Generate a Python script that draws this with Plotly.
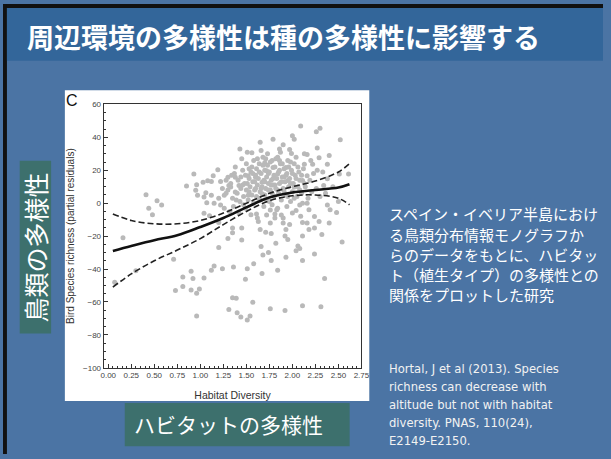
import plotly.graph_objects as go

W, H = 611, 459

# ---- data -------------------------------------------------------------
# Habitat diversity vs. bird species richness (partial residuals)
hab_div = [
    0.07, 0.16, 0.30, 0.41, 0.44, 0.53, 0.58, 0.48,
    0.71, 0.73, 0.81, 0.81, 0.90, 0.90, 0.92, 0.96, 0.99, 0.96, 0.85, 0.93, 0.96, 0.95, 0.97,
    1.03, 1.08, 1.12, 1.14, 1.19, 1.22, 1.06, 1.04, 1.12, 1.07, 1.15, 1.22, 1.26, 1.04, 1.10,
    1.20, 1.30, 1.35, 1.20, 1.15, 1.24, 1.12, 1.04, 1.30, 1.31,
    1.31, 1.35, 1.39, 1.40, 1.44, 1.51, 1.54, 1.57, 1.76, 1.92, 2.11, 2.31,
    1.38, 1.52, 1.67, 1.84, 1.81, 1.88, 2.04, 2.08, 2.11, 2.16, 2.24, 2.38, 2.48, 2.40, 2.54,
    2.35, 2.24, 2.11, 2.08, 2.04, 2.06, 2.11, 1.95, 1.92, 2.16, 2.11, 2.18, 1.93, 1.90, 1.76,
    1.71, 1.77, 1.65, 1.63, 1.61, 1.72, 1.76, 1.81, 1.45, 1.35, 1.45, 1.66, 1.68, 1.77, 1.74,
    1.82, 1.51, 1.58, 1.36, 1.49, 1.67, 1.84, 1.93, 2.29, 2.50, 2.41,
    2.09, 2.26, 2.30, 2.52, 2.00, 2.02, 1.90, 1.86, 1.65, 1.79, 1.43, 1.56, 1.97, 1.99, 2.16,
    2.27, 2.29, 2.40, 2.51, 2.61, 2.38, 2.22, 2.13, 1.79, 1.70, 1.72, 1.84, 1.93, 1.52, 1.60,
    1.67, 1.38, 1.42, 1.33, 2.38, 2.34, 2.11, 1.95, 2.02, 2.16,
    1.30, 1.33, 1.35, 1.37, 1.40, 1.41, 1.43, 1.44, 1.46, 1.47, 1.48, 1.50, 1.50, 1.52, 1.53,
    1.54, 1.55, 1.56, 1.57, 1.58, 1.59, 1.60, 1.61, 1.62, 1.63, 1.63, 1.64, 1.65, 1.66, 1.67,
    1.68, 1.69, 1.70, 1.70, 1.71, 1.72, 1.73, 1.74, 1.75, 1.75, 1.76, 1.77, 1.78, 1.79, 1.80,
    1.80, 1.81, 1.82, 1.83, 1.84, 1.85, 1.85, 1.86, 1.87, 1.88, 1.89, 1.90, 1.91, 1.92, 1.93,
    1.94, 1.95, 1.96, 1.97, 1.98, 1.99, 2.00, 2.01, 2.02, 2.03, 2.05, 2.06, 2.07, 2.08, 2.10,
    2.12, 2.14, 2.17, 2.19, 2.21, 2.23, 2.26, 2.30, 2.33, 2.36, 2.44,
    1.20, 1.24, 1.26, 1.28, 1.32, 1.36, 1.38, 1.42, 1.45, 1.49, 1.51, 1.55, 1.58, 1.62, 1.66,
    1.69, 1.73, 1.78, 1.83, 1.87, 1.90, 1.94, 1.97, 2.00, 2.04, 2.09, 2.13, 2.18, 2.20, 2.24,
    2.27, 2.32,
    1.46, 1.49, 1.53, 1.56, 1.59, 1.61, 1.64, 1.66, 1.68, 1.70, 1.72, 1.74, 1.76, 1.78, 1.79,
    1.81, 1.82, 1.84, 1.86, 1.88, 1.89, 1.91, 1.93, 1.95, 1.96, 1.98, 2.00, 2.02, 2.04, 2.06,
    2.08, 2.10, 2.13, 1.62, 1.57, 1.51, 1.44, 1.39, 1.34, 1.28, 1.47, 1.71, 1.86, 1.98, 1.53,
    1.65, 1.77, 1.91, 1.74, 1.60,
]
richness_resid = [
    -48, -21, -41, 5.2, -3, 1.5, -1.1, -7,
    -34, -53, -50.7, -44.8, -52.7, -41.4, -45.8, -54.7, -52.1, -68.6, 10.4, 17.7, 11.2, 7.8, 4.8,
    12.7, 13.7, 13.2, 16.7, 20.3, 13.2, 6.4, 3.8, 4.8, 0.2, -0.1, -1.1, 4.8, -6.1, -7.7,
    -11.7, -21.5, -15, -26.9, -38.2, -39.8, -40.8, -45.4, 15.7, 10.8,
    -64.6, -57.5, -57.7, -66.6, -69.2, -71, -68.6, -60.2, -64.2, -65.2, -62.3, -63,
    6.8, 4.8, 5.8, -3.1, -6.5, -7.1, -4.5, -1.1, -0.1, -0.1, -8.1, -1.1, -5.7, -12, -23.6,
    -45.8, -30.9, -34.9, -27.5, -28.9, -26, -20, -22, -20, -12, -11.7, -16, -16, -12, -12,
    -17.6, -18.4, -16, -11.1, -6.5, -7.1, -4.1, -9, -15, -18, -22.4, -26.3, -31.5, -34.9, -29.9,
    -24.3, -39.8, -36.8, -38.8, -46.2, -42.8, -40.8, -32.9, -11.1, 1, -4,
    46.9, 43.5, 45.5, 38.6, 41, 38.9, 35.6, 33, 37, 38.9, 33, 30.6, 32.6, 30.2, 29.6,
    33.6, 27.6, 29, 17.7, 17.7, 23.7, 23.7, 23.7, 21.7, 24.6, 19.7, 17.7, 21.7, 16.7, 15.7,
    12.7, 15.7, 10.8, 9.8, 14.8, 10.8, 13.8, 13.8, 9.8, 16.7,
    8, 12, 3, 18, 6, 14, 1, 9, 20, 4, 12, 8, 24, 2, 15,
    10, 19, 5, 13, 26, 8, 17, 21, 11, 3, 15, 24, 7, 18, 10,
    28, 14, 5, 20, 9, 16, 23, 12, 1, 19, 8, 14, 26, 11, 17,
    4, 22, 9, 15, 28, 6, 19, 12, 24, 2, 16, 9, 21, 13, 5,
    18, 26, 10, 15, 1, 20, 7, 12, 24, 17, 4, 10, 19, 14, 6,
    21, 10, 3, 14, 7, 18, 9, 4, 19, 6, 10,
    3, 9, -3, 14, -5, -2, 22, -6, 27, -3, 31, -7, 0, -9, 32,
    -2, 30, -1, -4, 31, -9, -2, -13, -6, 28, -8, 30, -4, 26, -15,
    20, -19,
    11, 17, 7, 22, 13, 4, 19, 9, 23, 13, 2, 18, 25, 6, 15,
    11, 27, 8, 20, 13, 24, 7, 17, 4, 22, 12, 18, 3, 15, 22,
    8, 17, 12, 27, 18, 12, 16, 2, 17, 6, -1, 27, 26, 25, 21,
    2, 11, 16, 8, 9,
]

# Smoothed fit and its confidence band
fit_x = [0.05, 0.25, 0.50, 0.75, 1.00, 1.25, 1.50, 1.75, 2.00, 2.25, 2.50, 2.62]
fit_y = [-29, -26, -22.5, -19.5, -14.5, -9, -2.5, 3.5, 6.5, 8, 9.5, 11.5]
ci_upper = [-6.5, -10.5, -12.5, -12.5, -10.5, -6, 0, 6, 10, 13.5, 19, 24]
ci_lower = [-51, -43, -35, -28.5, -21.5, -13, -5, 1.5, 4.5, 5, 3, -1]

x_ticks = [0.00, 0.25, 0.50, 0.75, 1.00, 1.25, 1.50, 1.75, 2.00, 2.25, 2.50, 2.75]
y_ticks = [60, 40, 20, 0, -20, -40, -60, -80, -100]

title_text = "周辺環境の多様性は種の多様性に影響する"
side_lines = [
    "スペイン・イベリア半島におけ",
    "る鳥類分布情報モノグラフか",
    "らのデータをもとに、ハビタッ",
    "ト（植生タイプ）の多様性との",
    "関係をプロットした研究",
]
cite_lines = [
    "Hortal, J et al (2013). Species",
    "richness can decrease with",
    "altitude but not with habitat",
    "diversity. PNAS, 110(24),",
    "E2149-E2150.",
]

# ---- helpers (pixel -> paper) -----------------------------------------
def px(x):
    return x / W

def py(y):
    return 1 - y / H

SLIDE_BG = "#4b74a4"
TITLE_BG = "#33669a"
BOX_BG = "#3d706d"
JP_FONT = "Noto Sans CJK JP"
AX_FONT = "Liberation Sans"

# plot frame in pixels
FL, FR, FT, FB = 102.5, 365, 102.5, 371

fig = go.Figure()

fig.add_trace(go.Scatter(
    x=hab_div, y=richness_resid, mode="markers",
    marker=dict(size=5, color="#b9b9b9", line=dict(width=0)),
    hoverinfo="skip",
))
fig.add_trace(go.Scatter(
    x=fit_x, y=ci_upper, mode="lines", line_shape="spline",
    line=dict(color="#222222", width=1.6, dash="6px,3px"),
))
fig.add_trace(go.Scatter(
    x=fit_x, y=ci_lower, mode="lines", line_shape="spline",
    line=dict(color="#222222", width=1.6, dash="6px,3px"),
))
fig.add_trace(go.Scatter(
    x=fit_x, y=fit_y, mode="lines", line_shape="spline",
    line=dict(color="#111111", width=2.6),
))

shapes = [
    # black slide edges
    dict(type="rect", xref="paper", yref="paper", x0=0, x1=1, y0=py(4), y1=1,
         fillcolor="#111111", line_width=0, layer="below"),
    dict(type="rect", xref="paper", yref="paper", x0=0, x1=px(4), y0=0, y1=1,
         fillcolor="#111111", line_width=0, layer="below"),
    # title bar
    dict(type="rect", xref="paper", yref="paper", x0=px(4), x1=1, y0=py(58), y1=py(4),
         fillcolor=TITLE_BG, line_width=0, layer="below"),
    # white figure panel
    dict(type="rect", xref="paper", yref="paper", x0=px(63), x1=px(373), y0=py(405), y1=py(88),
         fillcolor="white", line_width=0, layer="below"),
    # label boxes
    dict(type="rect", xref="paper", yref="paper", x0=px(17), x1=px(49), y0=py(336), y1=py(160),
         fillcolor=BOX_BG, line_width=0, layer="below"),
    dict(type="rect", xref="paper", yref="paper", x0=px(124), x1=px(353), y0=py(451), y1=py(407),
         fillcolor=BOX_BG, line_width=0, layer="below"),
]

annotations = [
    dict(text=title_text, x=px(22), y=py(33), xref="paper", yref="paper",
         xanchor="left", yanchor="middle", showarrow=False,
         font=dict(family=JP_FONT, size=27, color="white", weight="bold")),
    dict(text="鳥類の多様性", x=px(33), y=py(248), xref="paper", yref="paper",
         xanchor="center", yanchor="middle", showarrow=False, textangle=-90,
         font=dict(family=JP_FONT, size=25, color="white")),
    dict(text="ハビタットの多様性", x=px(131), y=py(428), xref="paper", yref="paper",
         xanchor="left", yanchor="middle", showarrow=False,
         font=dict(family=JP_FONT, size=21, color="white")),
    dict(text="C", x=px(70), y=py(98), xref="paper", yref="paper",
         xanchor="center", yanchor="middle", showarrow=False,
         font=dict(family=AX_FONT, size=16, color="#111111")),
]
for i, line in enumerate(side_lines):
    annotations.append(dict(
        text=line, x=px(391), y=py(214 + i * 20.7), xref="paper", yref="paper",
        xanchor="left", yanchor="middle", showarrow=False,
        font=dict(family=JP_FONT, size=15, color="white")))
for i, line in enumerate(cite_lines):
    annotations.append(dict(
        text=line, x=px(391), y=py(372 + i * 18.5), xref="paper", yref="paper",
        xanchor="left", yanchor="middle", showarrow=False,
        font=dict(family="DejaVu Sans", size=11.6, color="#f2f2f2")))

fig.update_layout(
    width=W, height=H, margin=dict(l=0, r=0, t=0, b=0),
    paper_bgcolor=SLIDE_BG, plot_bgcolor="white",
    showlegend=False, shapes=shapes, annotations=annotations,
    xaxis=dict(
        domain=[px(FL), px(FR)], range=[-0.05, 2.75],
        tickvals=x_ticks, ticktext=[f"{v:.2f}" for v in x_ticks],
        ticks="inside", ticklen=4, tickcolor="#333", tickwidth=1,
        minor=dict(ticks="inside", ticklen=2, dtick=0.05, tick0=0, tickcolor="#333"),
        showgrid=False, zeroline=False,
        showline=True, linecolor="#333", linewidth=1, mirror=True,
        tickfont=dict(family=AX_FONT, size=8, color="#444"),
        title=dict(text="Habitat Diversity", standoff=12,
                   font=dict(family=AX_FONT, size=10.5, color="#333")),
    ),
    yaxis=dict(
        domain=[py(FB), py(FT)], range=[-100, 60],
        tickvals=y_ticks,
        ticks="inside", ticklen=4, tickcolor="#333", tickwidth=1,
        minor=dict(ticks="inside", ticklen=2, dtick=5, tick0=0, tickcolor="#333"),
        showgrid=False, zeroline=False,
        showline=True, linecolor="#333", linewidth=1, mirror=True,
        tickfont=dict(family=AX_FONT, size=8, color="#444"),
        title=dict(text="Bird Species richness (partial residuals)", standoff=6,
                   font=dict(family=AX_FONT, size=10, color="#333")),
    ),
)

fig.write_html("out.html")
